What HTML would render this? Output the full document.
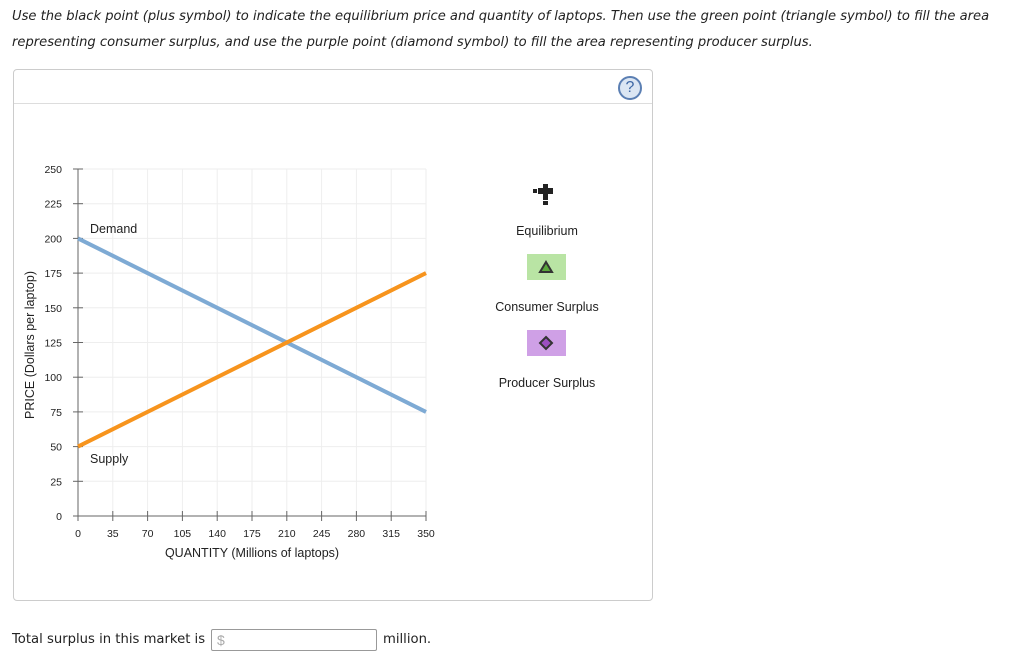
<!DOCTYPE html>
<html><head><meta charset="utf-8">
<style>
body{margin:0;width:1024px;height:663px;background:#fff;font-family:"Liberation Sans",sans-serif;position:relative;overflow:hidden;color:#222}
.instr{position:absolute;left:12px;top:4px;width:1005px;font-family:"DejaVu Sans",sans-serif;font-style:italic;font-size:13.1px;line-height:26px;color:#222}
.panel{position:absolute;left:13px;top:69px;width:640px;height:532px;border:1px solid #ccc;border-radius:4px;box-sizing:border-box}
.hdr{position:absolute;left:0;right:0;top:33px;border-top:1px solid #ddd}
.help{position:absolute;left:604px;top:6px;width:20px;height:20px;border:2px solid #5b7fb3;border-radius:50%;background:#dbe6f3;color:#3d67a5;font-size:16px;text-align:center;line-height:20px;box-sizing:content-box}
.bottom{position:absolute;left:12px;top:632px;font-size:13.2px;font-family:"DejaVu Sans",sans-serif}
.inp{position:absolute;left:211px;top:629px;width:166px;height:22px;border:1px solid #999;border-radius:2px;box-sizing:border-box;color:#aaa;font-size:14px;padding-left:5px;line-height:20px}
.mil{position:absolute;left:383px;top:632px;font-size:13.2px;font-family:"DejaVu Sans",sans-serif}
</style></head><body>
<div class="instr">Use the black point (plus symbol) to indicate the equilibrium price and quantity of laptops. Then use the green point (triangle symbol) to fill the area representing consumer surplus, and use the purple point (diamond symbol) to fill the area representing producer surplus.</div>
<div class="panel"><div class="hdr"></div><div class="help">?</div></div>
<svg id="chart" width="1024" height="663" style="position:absolute;left:0;top:0"></svg>
<div class="bottom">Total surplus in this market is</div>
<div class="inp">$</div>
<div class="mil">million.</div>
<script>
const xTicks=[0,35,70,105,140,175,210,245,280,315,350];
const yTicks=[0,25,50,75,100,125,150,175,200,225,250];
const demandQ=[0,350];
const demandP=[200,75];
const supplyQ=[0,350];
const supplyP=[50,175];
const X0=78,X1=426,Y0=516,Y1=169;
function xs(v){return X0+(v/350)*(X1-X0);}
function ys(v){return Y0-(v/250)*(Y0-Y1);}
const svg=document.getElementById('chart');
const NS='http://www.w3.org/2000/svg';
function mk(t,a){const e=document.createElementNS(NS,t);for(const k in a)e.setAttribute(k,a[k]);svg.appendChild(e);return e;}
xTicks.forEach(v=>{if(v>0){const l=mk('line',{x1:xs(v),x2:xs(v),y1:Y1,y2:Y0,stroke:'#eee'});

}});
yTicks.forEach(v=>{if(v>0){const l=mk('line',{x1:X0,x2:X1,y1:ys(v),y2:ys(v),stroke:'#eee'});

}});
let a=mk('line',{x1:X0,x2:X0,y1:Y1,y2:Y0,stroke:'#666'});


a=mk('line',{x1:X0,x2:X1,y1:Y0,y2:Y0,stroke:'#666'});


yTicks.forEach(v=>{mk('line',{x1:X0-5,x2:X0+5,y1:ys(v),y2:ys(v),stroke:'#666'});
const t=mk('text',{x:62,y:ys(v)+4,'text-anchor':'end','font-size':'10.5','fill':'#222'});t.textContent=v;

});
xTicks.forEach(v=>{mk('line',{x1:xs(v),x2:xs(v),y1:Y0-5,y2:Y0+5,stroke:'#666'});
const t=mk('text',{x:xs(v),y:537,'text-anchor':'middle','font-size':'10.5','fill':'#222'});t.textContent=v;

});
let t=mk('text',{x:252,y:557,'text-anchor':'middle','font-size':'12.5','fill':'#222'});t.textContent='QUANTITY (Millions of laptops)';


t=mk('text',{x:0,y:0,transform:'translate(34,345) rotate(-90)','text-anchor':'middle','font-size':'12.5','fill':'#222'});t.textContent='PRICE (Dollars per laptop)';


let d=mk('polyline',{points:demandQ.map((q,i)=>xs(q)+','+ys(demandP[i])).join(' '),stroke:'#7eaad4','stroke-width':'4',fill:'none'});


let s=mk('polyline',{points:supplyQ.map((q,i)=>xs(q)+','+ys(supplyP[i])).join(' '),stroke:'#f7941d','stroke-width':'4',fill:'none'});


t=mk('text',{x:90,y:233,'font-size':'12.5','fill':'#222'});t.textContent='Demand';


t=mk('text',{x:90,y:463,'font-size':'12.5','fill':'#222'});t.textContent='Supply';


let g=mk('g',{});


[[533,189,4,4],[543,184,5,16],[538,188,15,6],[543,201,5,4]].forEach(r=>{const e=document.createElementNS(NS,'rect');e.setAttribute('x',r[0]);e.setAttribute('y',r[1]);e.setAttribute('width',r[2]);e.setAttribute('height',r[3]);e.setAttribute('fill','#222');g.appendChild(e);});
t=mk('text',{x:547,y:235,'text-anchor':'middle','font-size':'12.5','fill':'#222'});t.textContent='Equilibrium';


let r=mk('rect',{x:527,y:254,width:39,height:26,fill:'#b9e4a4'});


mk('polygon',{points:'546,262 552,272 540,272',fill:'#5aa83c',stroke:'#333','stroke-width':'2'});
t=mk('text',{x:547,y:311,'text-anchor':'middle','font-size':'12.5','fill':'#222'});t.textContent='Consumer Surplus';


r=mk('rect',{x:527,y:330,width:39,height:26,fill:'#cfa0e6'});


mk('polygon',{points:'546,337 552,343 546,349 540,343',fill:'#9b4fc0',stroke:'#333','stroke-width':'2'});
t=mk('text',{x:547,y:387,'text-anchor':'middle','font-size':'12.5','fill':'#222'});t.textContent='Producer Surplus';


</script>
</body></html>
